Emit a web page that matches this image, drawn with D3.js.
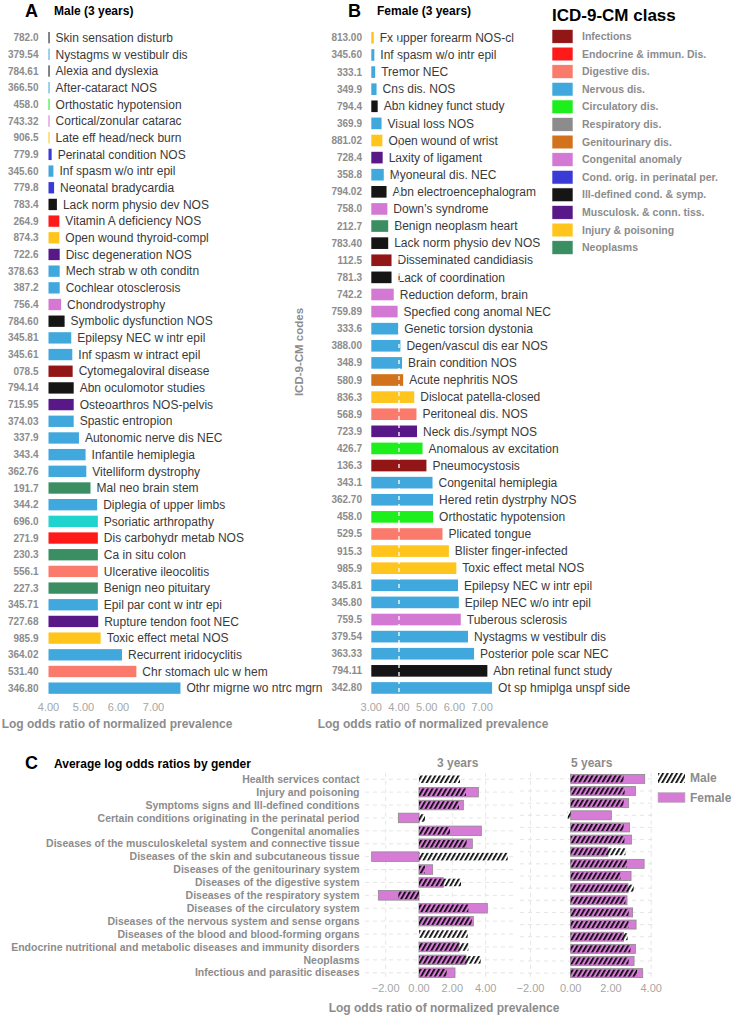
<!DOCTYPE html>
<html><head><meta charset="utf-8">
<script src="https://cdn.jsdelivr.net/npm/d3@7"></script>
<style>
html,body{margin:0;padding:0;background:#fff;}
text{font-family:"Liberation Sans",Arial,sans-serif;}
</style></head>
<body><svg id="chart" width="733" height="1016"></svg>
<script>
// ---------- Panel A: Male (3 years) ----------
const maleNames = ["Skin sensation disturb","Nystagms w vestibulr dis","Alexia and dyslexia","After-cataract NOS","Orthostatic hypotension","Cortical/zonular catarac","Late eff head/neck burn","Perinatal condition NOS","Inf spasm w/o intr epil","Neonatal bradycardia","Lack norm physio dev NOS","Vitamin A deficiency NOS","Open wound thyroid-compl","Disc degeneration NOS","Mech strab w oth conditn","Cochlear otosclerosis","Chondrodystrophy","Symbolic dysfunction NOS","Epilepsy NEC w intr epil","Inf spasm w intract epil","Cytomegaloviral disease","Abn oculomotor studies","Osteoarthros NOS-pelvis","Spastic entropion","Autonomic nerve dis NEC","Infantile hemiplegia","Vitelliform dystrophy","Mal neo brain stem","Diplegia of upper limbs","Psoriatic arthropathy","Dis carbohydr metab NOS","Ca in situ colon","Ulcerative ileocolitis","Benign neo pituitary","Epil par cont w intr epi","Rupture tendon foot NEC","Toxic effect metal NOS","Recurrent iridocyclitis","Chr stomach ulc w hem","Othr migrne wo ntrc mgrn"];
const maleCodes = ["782.0","379.54","784.61","366.50","458.0","743.32","906.5","779.9","345.60","779.8","783.4","264.9","874.3","722.6","378.63","387.2","756.4","784.60","345.81","345.61","078.5","794.14","715.95","374.03","337.9","343.4","362.76","191.7","344.2","696.0","271.9","230.3","556.1","227.3","345.71","727.68","985.9","364.02","531.40","346.80"];
const maleValues = [4.03,4.03,4.03,4.03,4.03,4.03,4.03,4.09,4.14,4.16,4.24,4.31,4.31,4.32,4.32,4.32,4.36,4.46,4.65,4.68,4.69,4.72,4.72,4.72,4.87,5.06,5.08,5.20,5.39,5.41,5.41,5.41,5.41,5.41,5.41,5.42,5.49,6.10,6.51,7.77];
const maleClasses = ["ill","nerv","ill","nerv","circ","cong","inj","peri","nerv","peri","ill","endo","inj","musc","nerv","nerv","cong","ill","nerv","nerv","infe","ill","musc","nerv","nerv","nerv","nerv","neop","nerv","skin","endo","neop","dige","neop","nerv","musc","inj","nerv","dige","nerv"];

// ---------- Panel B: Female (3 years) ----------
const femaleNames = ["Fx upper forearm NOS-cl","Inf spasm w/o intr epil","Tremor NEC","Cns dis. NOS","Abn kidney funct study","Visual loss NOS","Open wound of wrist","Laxity of ligament","Myoneural dis. NEC","Abn electroencephalogram","Down\u2019s syndrome","Benign neoplasm heart","Lack norm physio dev NOS","Disseminated candidiasis","Lack of coordination","Reduction deform, brain","Specfied cong anomal NEC","Genetic torsion dystonia","Degen/vascul dis ear NOS","Brain condition NOS","Acute nephritis NOS","Dislocat patella-closed","Peritoneal dis. NOS","Neck dis./sympt NOS","Anomalous av excitation","Pneumocystosis","Congenital hemiplegia","Hered retin dystrphy NOS","Orthostatic hypotension","Plicated tongue","Blister finger-infected","Toxic effect metal NOS","Epilepsy NEC w intr epil","Epilep NEC w/o intr epil","Tuberous sclerosis","Nystagms w vestibulr dis","Posterior pole scar NEC","Abn retinal funct study","Ot sp hmiplga unspf side"];
const femaleCodes = ["813.00","345.60","333.1","349.9","794.4","369.9","881.02","728.4","358.8","794.02","758.0","212.7","783.40","112.5","781.3","742.2","759.89","333.6","388.00","348.9","580.9","836.3","568.9","723.9","426.7","136.3","343.1","362.70","458.0","529.5","915.3","985.9","345.81","345.80","759.5","379.54","363.33","794.11","342.80"];
const femaleValues = [3.09,3.11,3.14,3.19,3.23,3.37,3.40,3.41,3.45,3.55,3.58,3.61,3.61,3.73,3.73,3.81,3.95,3.97,4.05,4.11,4.15,4.55,4.63,4.65,4.85,4.99,5.21,5.23,5.23,5.57,5.80,6.07,6.13,6.16,6.23,6.49,6.71,7.19,7.36];
const femaleClasses = ["inj","nerv","nerv","nerv","ill","nerv","inj","musc","nerv","ill","cong","neop","ill","infe","ill","cong","cong","nerv","nerv","nerv","geni","inj","dige","musc","circ","infe","nerv","nerv","circ","dige","inj","inj","nerv","nerv","cong","nerv","nerv","ill","nerv"];

// ---------- Legend ----------
const legendKeys = ["infe","endo","dige","nerv","circ","resp","geni","cong","peri","ill","musc","inj","neop"];
const legendLabels = ["Infections","Endocrine & immun. Dis.","Digestive dis.","Nervous dis.","Circulatory dis.","Respiratory dis.","Genitourinary dis.","Congenital anomaly","Cond. orig. in perinatal per.","Ill-defined cond. & symp.","Musculosk. & conn. tiss.","Injury & poisoning","Neoplasms"];

// ---------- Panel C ----------
const cCategories3 = ["Health services contact","Injury and poisoning","Symptoms signs and Ill-defined conditions","Certain conditions originating in the perinatal period","Congenital anomalies","Diseases of the musculoskeletal system and connective tissue","Diseases of the skin and subcutaneous tissue","Diseases of the genitourinary system","Diseases of the digestive system","Diseases of the respiratory system","Diseases of the circulatory system","Diseases of the nervous system and sense organs","Diseases of the blood and blood-forming organs","Endocrine nutritional and metabolic diseases and immunity disorders","Neoplasms","Infectious and parasitic diseases"];
const c3Female = [null,3.56,2.66,-1.24,3.74,3.20,-2.84,0.82,1.46,-2.44,4.10,3.26,null,2.40,2.82,2.16];
const c3Male = [2.46,2.82,2.40,0.36,1.86,2.86,5.32,0.36,2.52,-1.24,2.96,3.16,2.92,2.96,3.70,1.66];
const cCategories5 = cCategories3.concat(["Mental disorders"]);
const c5Female = [3.68,3.22,2.88,2.02,2.93,3.02,1.85,3.65,3.00,2.85,2.80,3.08,3.25,2.63,3.22,3.15,3.58];
const c5Male = [2.63,2.68,2.63,-0.15,2.63,2.67,2.72,2.80,2.47,3.13,2.72,2.88,2.88,2.83,2.97,2.88,3.30];
const ticksA = [4,5,6,7];
const ticksB = [3,4,5,6,7];
const ticksC3 = [-2,0,2,4];
const ticksC5 = [-2,0,2,4];

// ---------- styles ----------
const classColor = {infe:"#921616",endo:"#ff1a1a",dige:"#fa7b6c",nerv:"#41a8de",circ:"#1cef1c",resp:"#8c8c8c",geni:"#d2721c",cong:"#d379d3",peri:"#3a3ad6",ill:"#151515",musc:"#581888",inj:"#ffc51c",neop:"#3b8e62",skin:"#1fd3cf"};
const gray = "#8c8c8c", tickGray = "#a6a6a6", femaleFill = "#d67cd6";
const fmt = d3.format(".2f");

const svg = d3.select("#chart");
const defs = svg.append("defs");
const pat = defs.append("pattern").attr("id","hatch").attr("patternUnits","userSpaceOnUse")
  .attr("width",4).attr("height",4).attr("patternTransform","rotate(30)");
pat.append("rect").attr("x",0).attr("y",0).attr("width",1.7).attr("height",4).attr("fill","#000");

// ---------- A/B bar panel ----------
function barPanel(names, codes, values, classes, x, codeX, refLine) {
  const y = d3.scaleBand().domain(names).range([29.3, 696.5]).paddingInner(0.32).paddingOuter(0.16);
  const g = svg.append("g");
  g.selectAll("rect.bar").data(names).join("rect").attr("class","bar")
    .attr("x", x(x.domain()[0]))
    .attr("y", d => y(d))
    .attr("height", y.bandwidth())
    .attr("width", (d,i) => x(values[i]) - x(x.domain()[0]))
    .attr("fill", (d,i) => classColor[classes[i]]);
  g.selectAll("text.name").data(names).join("text").attr("class","name")
    .attr("x", (d,i) => x(values[i]) + 6)
    .attr("y", d => y(d) + y.bandwidth()/2)
    .attr("dy","0.35em").attr("font-size",12).attr("fill","#3a3a3a").text(d => d);
  g.selectAll("text.code").data(names).join("text").attr("class","code")
    .attr("x", codeX).attr("y", d => y(d) + y.bandwidth()/2)
    .attr("dy","0.35em").attr("text-anchor","end").attr("font-size",10).attr("font-weight","bold")
    .attr("fill", gray).text((d,i) => codes[i]);
  if (refLine !== null) {
    g.append("line").attr("x1", x(refLine)).attr("x2", x(refLine))
      .attr("y1", y(names[0])).attr("y2", y(names[names.length-1]) + y.bandwidth())
      .attr("stroke","#fff").attr("stroke-width",1.3).attr("stroke-dasharray","4,4");
  }
  return g;
}
function bottomTicks(x, ticks, yPos) {
  svg.append("g").selectAll("text").data(ticks).join("text")
    .attr("x", d => x(d)).attr("y", yPos).attr("dy","0.35em").attr("text-anchor","middle")
    .attr("font-size",11).attr("fill",tickGray).text(d => fmt(d));
}

const xA = d3.scaleLinear().domain([4, 8]).range([48.5, 188.5]);
barPanel(maleNames, maleCodes, maleValues, maleClasses, xA, 38.5, null);
bottomTicks(xA, ticksA, 707.5);
const xB = d3.scaleLinear().domain([3, 8]).range([371.3, 509.8]);
barPanel(femaleNames, femaleCodes, femaleValues, femaleClasses, xB, 362, 4);
bottomTicks(xB, ticksB, 707.5);

function txt(x, y, s, size, weight, fill, anchor) {
  return svg.append("text").attr("x",x).attr("y",y).attr("dy","0.35em")
    .attr("font-size",size).attr("font-weight",weight||"normal").attr("fill",fill||"#000")
    .attr("text-anchor",anchor||"start").text(s);
}
txt(25, 11, "A", 18, "bold", "#000");
txt(54, 11, "Male (3 years)", 12, "bold", "#000");
txt(348, 11, "B", 18, "bold", "#000");
txt(377, 11, "Female (3 years)", 12, "bold", "#000");
txt(117, 723.5, "Log odds ratio of normalized prevalence", 12, "bold", gray, "middle");
txt(433, 723.5, "Log odds ratio of normalized prevalence", 12, "bold", gray, "middle");
svg.append("text").attr("transform","translate(299,352) rotate(-90)").attr("dy","0.35em")
  .attr("text-anchor","middle").attr("font-size",11.5).attr("font-weight","bold").attr("fill",gray).text("ICD-9-CM codes");

// legend
txt(552, 15, "ICD-9-CM class", 17, "bold", "#000");
const ly = d3.scaleBand().domain(legendKeys).range([27.6, 256.4]).paddingInner(0.22).paddingOuter(0.11);
const lg = svg.append("g");
lg.selectAll("rect").data(legendKeys).join("rect")
  .attr("x",552).attr("width",21).attr("y", d => ly(d)).attr("height", ly.bandwidth())
  .attr("fill", d => classColor[d]).attr("stroke","#fff").attr("stroke-width",0.6);
lg.selectAll("text").data(legendKeys).join("text")
  .attr("x",582).attr("y", d => ly(d) + ly.bandwidth()/2).attr("dy","0.35em")
  .attr("font-size",10.5).attr("font-weight","bold").attr("fill",gray)
  .text((d,i) => legendLabels[i]);

// ---------- Panel C ----------
txt(25, 763, "C", 18, "bold", "#000");
txt(54, 764, "Average log odds ratios by gender", 12, "bold", "#000");

function facet(cats, fem, mal, x, ticks, x0, x1, showLabels) {
  const y = d3.scaleBand().domain(cats).range([772.8, 979.2]).paddingInner(0.26).paddingOuter(0.13);
  const g = svg.append("g");
  // grid
  g.selectAll("line.h").data(cats).join("line").attr("class","h")
    .attr("x1", x0).attr("x2", x1).attr("y1", d => y(d)+y.bandwidth()/2).attr("y2", d => y(d)+y.bandwidth()/2)
    .attr("stroke","#dedede").attr("stroke-width",0.8).attr("stroke-dasharray","4,4");
  g.selectAll("line.v").data(ticks).join("line").attr("class","v")
    .attr("x1", d => x(d)).attr("x2", d => x(d)).attr("y1", 772.8).attr("y2", 979.2)
    .attr("stroke","#dedede").attr("stroke-width",0.8).attr("stroke-dasharray","4,4");
  const fIdx = d3.range(cats.length).filter(i => fem[i] !== null);
  g.selectAll("rect.f").data(fIdx).join("rect").attr("class","f")
    .attr("x", i => x(Math.min(0, fem[i]))).attr("width", i => Math.abs(x(fem[i]) - x(0)))
    .attr("y", i => y(cats[i])).attr("height", y.bandwidth())
    .attr("fill", femaleFill).attr("stroke","#8a8a8a").attr("stroke-width",0.8);
  const mIdx = d3.range(cats.length).filter(i => mal[i] !== null);
  g.selectAll("rect.m").data(mIdx).join("rect").attr("class","m")
    .attr("x", i => x(Math.min(0, mal[i]))).attr("width", i => Math.abs(x(mal[i]) - x(0)))
    .attr("y", i => y(cats[i]) + 1).attr("height", y.bandwidth() - 2)
    .attr("fill", "url(#hatch)");
  g.selectAll("text.t").data(ticks).join("text").attr("class","t")
    .attr("x", d => x(d)).attr("y", 988).attr("dy","0.35em").attr("text-anchor","middle")
    .attr("font-size",11).attr("fill",tickGray).text(d => fmt(d));
  if (showLabels) {
    g.selectAll("text.lab").data(cats).join("text").attr("class","lab")
      .attr("x", 359.5).attr("y", d => y(d)+y.bandwidth()/2).attr("dy","0.35em")
      .attr("text-anchor","end").attr("font-size",10.5).attr("font-weight","bold").attr("fill",gray).text(d => d);
  }
}
const xC3 = d3.scaleLinear().domain([-3.24, 5.70]).range([365, 514]);
facet(cCategories3, c3Female, c3Male, xC3, ticksC3, 365, 514, true);
const xC5 = d3.scaleLinear().domain([-2.52, 4.24]).range([520, 656]);
facet(cCategories5, c5Female, c5Male, xC5, ticksC5, 520, 656, false);
txt(437, 763, "3 years", 12, "bold", gray);
txt(571, 763, "5 years", 12, "bold", gray);
txt(444, 1008, "Log odds ratio of normalized prevalence", 12, "bold", gray, "middle");

// C legend
svg.append("rect").attr("x",658).attr("y",773).attr("width",27).attr("height",10).attr("fill","url(#hatch)");
svg.append("rect").attr("x",658).attr("y",792.5).attr("width",27).attr("height",10).attr("fill",femaleFill).attr("stroke","#bbb").attr("stroke-width",0.6);
txt(690, 778, "Male", 12, "bold", gray);
txt(690, 797.5, "Female", 12, "bold", gray);
</script></body></html>
